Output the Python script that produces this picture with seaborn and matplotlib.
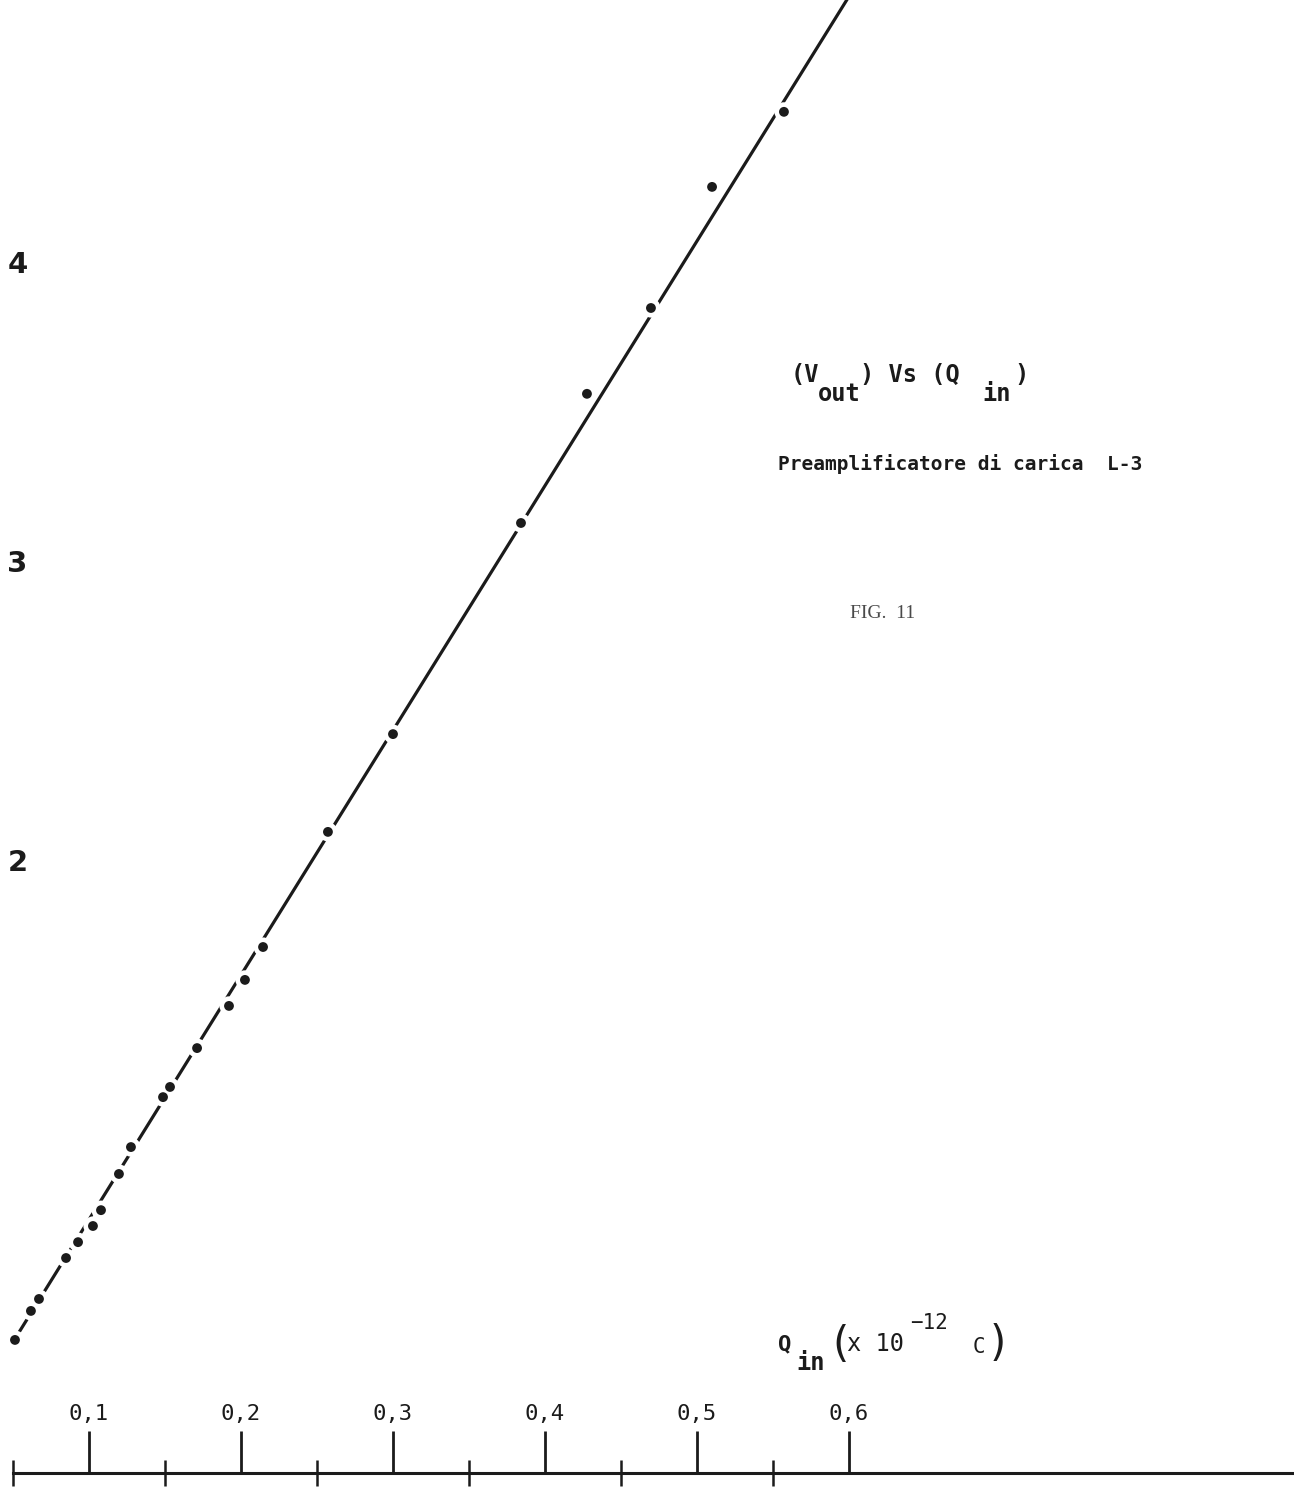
import matplotlib
matplotlib.use("Agg")
import matplotlib.pyplot as plt
import seaborn as sns
import pandas as pd

# Measured output voltage against injected charge, L-3 charge preamplifier
q_in = [0.0513, 0.0618, 0.0671, 0.0849, 0.0928, 0.1026, 0.1079, 0.1197, 0.1276,
        0.1487, 0.1533, 0.1711, 0.1921, 0.2026, 0.2145, 0.2572, 0.3000, 0.3842,
        0.4276, 0.4697, 0.5099, 0.5572]
v_out = [0.395, 0.492, 0.532, 0.669, 0.722, 0.776, 0.829, 0.950, 1.040,
         1.207, 1.241, 1.371, 1.512, 1.599, 1.709, 2.094, 2.421, 3.127,
         3.559, 3.846, 4.251, 4.502]

# Straight line drawn through the measurements (end points)
fit_q = [0.049, 0.61]
fit_v = [0.38, 4.97]

x_major = [0.1, 0.2, 0.3, 0.4, 0.5, 0.6]
x_major_labels = ["0,1", "0,2", "0,3", "0,4", "0,5", "0,6"]
x_minor = [0.05, 0.15, 0.25, 0.35, 0.45, 0.55]
y_major = [2, 3, 4]
y_major_labels = ["2", "3", "4"]

points = pd.DataFrame({"q": q_in, "v": v_out})
fit = pd.DataFrame({"q": fit_q, "v": fit_v})

sns.set_theme(style="white")
plt.rcParams["font.family"] = ["DejaVu Sans Mono", "DejaVu Sans"]

INK = "#1b1b1b"
W, H = 1294, 1491
fig = plt.figure(figsize=(W / 100, H / 100), dpi=100)
fig.patch.set_facecolor("white")
ax = fig.add_axes([0, 1 - 1473 / H, 1, 1473 / H])
ax.set_facecolor("white")

sns.lineplot(data=fit, x="q", y="v", ax=ax, color=INK, linewidth=2.3, zorder=1)
# white halos break the line around each measured point
sns.scatterplot(data=points, x="q", y="v", ax=ax, color="white", s=190,
                edgecolor="none", zorder=2)
sns.scatterplot(data=points, x="q", y="v", ax=ax, color=INK, s=50,
                edgecolor="none", zorder=3)

ax.set_xlim(0.04145, 0.89276)
ax.set_ylim(-0.050, 4.876)
ax.set_xlabel("")
ax.set_ylabel("")

for side in ("left", "top", "right"):
    ax.spines[side].set_visible(False)
ax.spines["bottom"].set_color(INK)
ax.spines["bottom"].set_linewidth(2.2)
ax.spines["bottom"].set_bounds(0.05, 0.89276)

ax.set_xticks(x_major)
ax.set_xticklabels(x_major_labels)
ax.set_xticks(x_minor, minor=True)
ax.tick_params(axis="x", which="major", direction="in", length=30, width=2.0,
               color=INK, pad=-50, labelsize=16, labelcolor=INK, bottom=True)
ax.tick_params(axis="x", which="minor", direction="inout", length=19, width=1.8,
               color=INK, bottom=True)

ax.set_yticks(y_major)
ax.set_yticklabels(y_major_labels)
ax.tick_params(axis="y", which="major", length=0, pad=-20, labelsize=21,
               labelcolor=INK, left=True)
for lab in ax.get_yticklabels():
    lab.set_fontfamily(["DejaVu Sans"])
    lab.set_fontweight("bold")


def put(x, y, s, **kw):
    kw.setdefault("color", INK)
    kw.setdefault("va", "baseline")
    kw.setdefault("ha", "left")
    kw.setdefault("fontweight", "bold")
    fig.text(x / W, 1 - y / H, s, **kw)


# chart title, typewriter style with lowered subscripts
put(791, 382, "(V", fontsize=17)
put(818, 401, "out", fontsize=17)
put(860, 382, ") Vs (Q", fontsize=17)
put(982, 401, "in", fontsize=17)
put(1014, 382, ")", fontsize=17)

put(778, 470, "Preamplificatore di carica  L-3", fontsize=14)
put(850, 618, "FIG.  11", fontsize=14, family=["Liberation Serif"],
    color="#4a4a4a", fontweight="normal")

# axis quantity
put(778, 1350, "Q", fontsize=16)
put(796, 1370, "in", fontsize=17)
put(840, 1345, "(", fontsize=30, ha="center", va="center",
    family=["DejaVu Sans"], fontweight="normal")
put(847, 1351, "x 10", fontsize=17, fontweight="normal")
put(910, 1329, "\u221212", fontsize=15, fontweight="normal")
put(973, 1353, "C", fontsize=15, fontweight="normal")
put(998, 1344, ")", fontsize=30, ha="center", va="center",
    family=["DejaVu Sans"], fontweight="normal")

fig.savefig("out.png", dpi=100, facecolor="white")
